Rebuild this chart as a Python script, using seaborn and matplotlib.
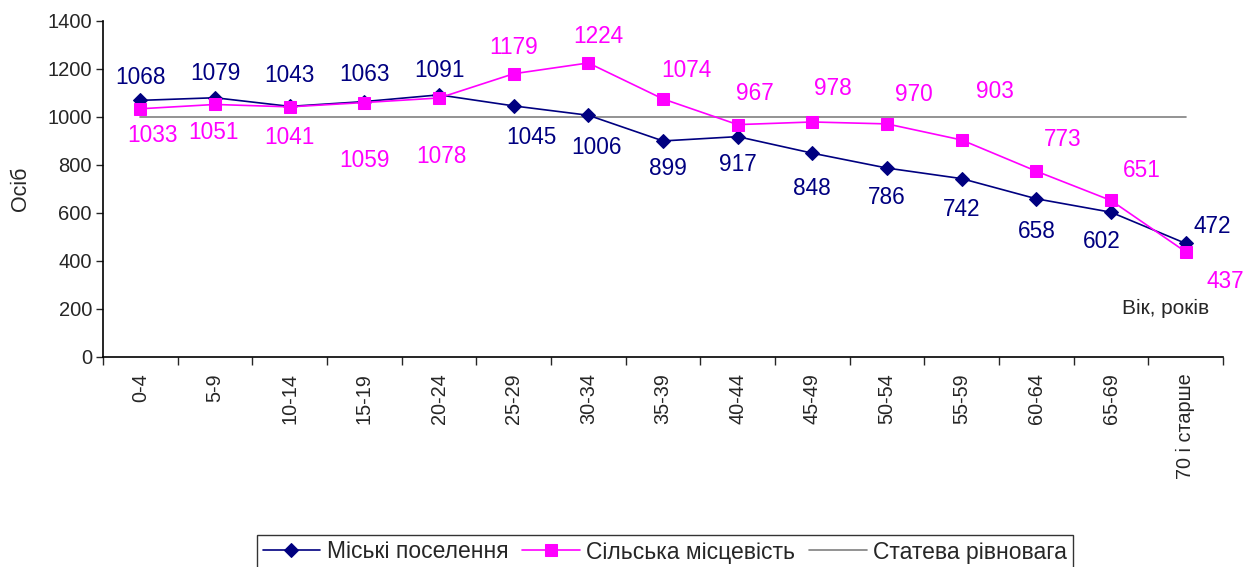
import matplotlib
matplotlib.use('Agg')
import numpy as np
import pandas as pd
import seaborn as sns
import matplotlib.pyplot as plt

ages = ['0-4', '5-9', '10-14', '15-19', '20-24', '25-29', '30-34', '35-39',
        '40-44', '45-49', '50-54', '55-59', '60-64', '65-69', '70 і старше']
urban = [1068, 1079, 1043, 1063, 1091, 1045, 1006, 899, 917, 848, 786, 742, 658, 602, 472]
rural = [1033, 1051, 1041, 1059, 1078, 1179, 1224, 1074, 967, 978, 970, 903, 773, 651, 437]
balance = [1000] * len(ages)

# label offsets in pixels (dx, dy)
urban_off = [(0, 23), (0, 24), (0, 31), (0, 27), (0, 24), (18, -32), (8, -32), (5, -28),
             (0, -28), (0, -35), (0, -29), (0, -31), (0, -33), (-9, -29), (27, 17)]
rural_off = [(12, -27), (-2, -28), (0, -31), (0, -58), (2, -59), (0, 26), (10, 26), (23, 28),
             (17, 31), (21, 33), (27, 29), (33, 48), (26, 32), (31, 30), (40, -30)]

sns.set_style('white')
plt.rcParams['font.family'] = ['Liberation Sans', 'DejaVu Sans']

df = pd.DataFrame({'x': np.arange(len(ages)), 'urban': urban, 'rural': rural, 'balance': balance})

fig = plt.figure(figsize=(12.52, 5.67), dpi=100)
ax = fig.add_axes([103 / 1252, 1 - 356.7 / 567, (1223 - 103) / 1252, (356.7 - 20.7) / 567])

sns.lineplot(data=df, x='x', y='balance', ax=ax, color='#808080', lw=1.2,
             label='Статева рівновага', zorder=1)
sns.lineplot(data=df, x='x', y='urban', ax=ax, color='#000080', lw=1.2, marker='D',
             markersize=7, markeredgecolor='#000080', label='Міські поселення', zorder=2)
sns.lineplot(data=df, x='x', y='rural', ax=ax, color='#FF00FF', lw=1.2, marker='s',
             markersize=9, markeredgecolor='#FF00FF', label='Сільська місцевість', zorder=3)

k = 72 / 100
for i, v in enumerate(urban):
    dx, dy = urban_off[i]
    ax.annotate(str(v), (i, v), xytext=(dx * k, dy * k), textcoords='offset points',
                ha='center', va='center', fontsize=16.3, color='#000080')
for i, v in enumerate(rural):
    dx, dy = rural_off[i]
    ax.annotate(str(v), (i, v), xytext=(dx * k, dy * k), textcoords='offset points',
                ha='center', va='center', fontsize=16.3, color='#FF00FF')

ax.set_xlim(-0.5, len(ages) - 0.5)
ax.set_ylim(0, 1400)
ax.set_yticks(range(0, 1401, 200))
ax.tick_params(axis='y', labelsize=14.5, length=5, width=1, direction='out', left=True, pad=3)
ax.set_xticks(np.arange(-0.5, len(ages), 1))
ax.set_xticklabels([])
ax.tick_params(axis='x', which='major', length=6, width=1, direction='out', bottom=True)
ax.set_xticks(range(len(ages)), minor=True)
ax.set_xticklabels(ages, minor=True, rotation=90, fontsize=14.3)
ax.tick_params(axis='x', which='minor', length=0, pad=12)

ax.set_xlabel('')
ax.set_ylabel('Осіб', fontsize=15.5, labelpad=12)
ax.text(0.949, 0.145, 'Вік, років', transform=ax.transAxes, ha='center', va='center', fontsize=15)

for s in ['top', 'right']:
    ax.spines[s].set_visible(False)
for s in ['left', 'bottom']:
    ax.spines[s].set_color('black')
    ax.spines[s].set_linewidth(1.2)

h, l = ax.get_legend_handles_labels()
order = [l.index('Міські поселення'), l.index('Сільська місцевість'), l.index('Статева рівновага')]
leg = fig.legend([h[i] for i in order], [l[i] for i in order], loc='center',
                 bbox_to_anchor=(665 / 1252, 1 - 552 / 567), ncol=3, fontsize=16.5,
                 frameon=True, fancybox=False, edgecolor='black', borderpad=0.25,
                 handlelength=2.5, columnspacing=0.6, handletextpad=0.3)
leg.get_frame().set_linewidth(1.0)
ax.get_legend().remove()

fig.savefig('out.png', dpi=100)
